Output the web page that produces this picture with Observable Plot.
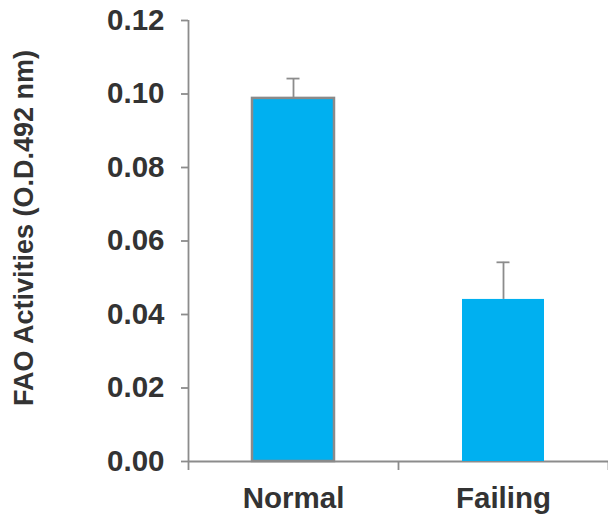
<!DOCTYPE html>
<html>
<head>
<meta charset="utf-8">
<script src="https://cdn.jsdelivr.net/npm/d3@7"></script>
<script src="https://cdn.jsdelivr.net/npm/@observablehq/plot@0.6"></script>
<style>
  html, body { margin: 0; padding: 0; background: #fff; }
  #chart { width: 608px; height: 522px; }
</style>
</head>
<body>
<div id="chart"></div>
<script>
const categories = ["Normal", "Failing"];
const values = [0.0988, 0.0441];
const errors = [0.0054, 0.0101];
const yTicks = [0, 0.02, 0.04, 0.06, 0.08, 0.10, 0.12];
const yLabel = "FAO Activities (O.D.492 nm)";

const data = categories.map((name, i) => ({name, i, value: values[i], err: errors[i]}));

const axisColor = "#8c8c8c";
const textColor = "#333333";
const font = "'Liberation Sans', Arial, sans-serif";

const chart = Plot.plot({
  width: 608,
  height: 522,
  marginLeft: 188,
  marginRight: 0,
  marginTop: 20,
  marginBottom: 61,
  style: {fontFamily: font, background: "#fff", overflow: "visible"},
  x: {domain: [0, categories.length], axis: null},
  y: {domain: [0, 0.12], axis: null},
  marks: [
    // axis lines
    Plot.ruleX([0], {y1: 0, y2: 0.12, stroke: axisColor, strokeWidth: 1.8}),
    Plot.ruleY([0], {x1: 0, x2: categories.length, stroke: axisColor, strokeWidth: 1.8}),
    // y axis ticks and labels
    Plot.axisY({
      ticks: yTicks, tickFormat: d3.format(".2f"), tickSize: 7, tickPadding: 17,
      stroke: axisColor, strokeWidth: 1.8, fontSize: 29.5, fontWeight: "bold",
      fill: textColor, label: null
    }),
    // x axis category boundary ticks
    Plot.axisX({
      ticks: d3.range(categories.length + 1), tickFormat: () => "", tickSize: 9,
      stroke: axisColor, strokeWidth: 1.8, label: null
    }),
    // bars
    Plot.rectY(data, {
      x1: d => d.i, x2: d => d.i + 1, y: "value",
      fill: "#00B0F0",
      stroke: d => d.name === "Normal" ? "#8a8a8a" : "none",
      strokeWidth: 2.5,
      insetLeft: 64, insetRight: 64
    }),
    // error bars
    Plot.ruleX(data, {x: d => d.i + 0.5, y1: "value", y2: d => d.value + d.err, stroke: axisColor, strokeWidth: 1.8}),
    Plot.ruleY(data, {x1: d => d.i + 0.5, x2: d => d.i + 0.5, y: d => d.value + d.err, insetLeft: -6.5, insetRight: -6.5, stroke: axisColor, strokeWidth: 1.8}),
    // x labels
    Plot.text(data, {x: d => d.i + 0.5, y: 0, text: "name", dy: 37, fontSize: 29.5, fontWeight: "bold", fill: textColor}),
    // y label
    Plot.text([yLabel], {frameAnchor: "left", textAnchor: "middle", lineAnchor: "middle", text: d => d, rotate: -90, dx: -164, dy: -13, fontSize: 27, fontWeight: "bold", fill: textColor})
  ]
});
document.getElementById("chart").appendChild(chart);
</script>
</body>
</html>
